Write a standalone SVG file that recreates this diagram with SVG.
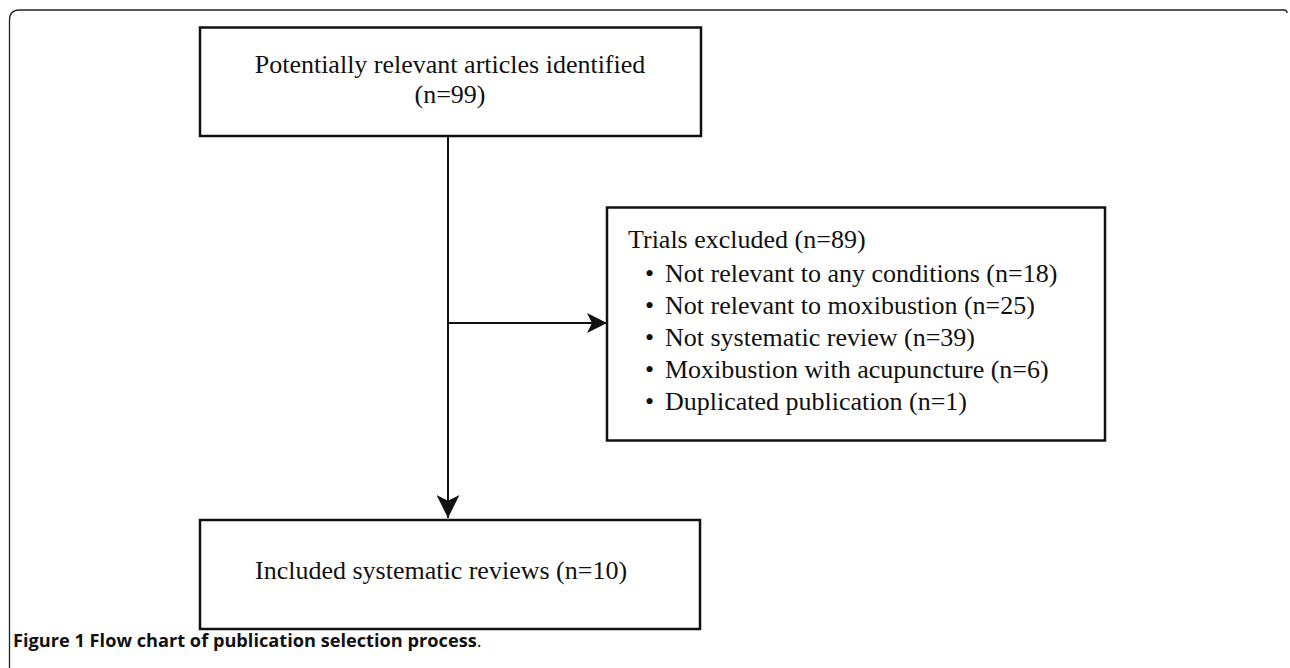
<svg xmlns="http://www.w3.org/2000/svg" width="1290" height="668" viewBox="0 0 1290 668">
<defs>
<style>
.box{fill:#fff;stroke:#111;stroke-width:2.5}
.t{font-family:"Liberation Serif","Times New Roman",serif;font-size:26px;fill:#111}
.ln{stroke:#111;stroke-width:2;fill:none}
.cap{font-family:"Open Sans","Noto Sans",sans-serif;font-size:18.2px;font-weight:bold;fill:#111}
</style>
<marker id="ah" viewBox="0 0 20 20" refX="20" refY="10" markerWidth="20" markerHeight="20" markerUnits="userSpaceOnUse" orient="auto">
<path d="M0,0 L20,10 L0,20 L5,10 Z" fill="#111"/>
</marker>
<marker id="ah2" viewBox="0 0 20 20" refX="20" refY="10" markerWidth="23" markerHeight="23" markerUnits="userSpaceOnUse" orient="auto">
<path d="M0,0 L20,10 L0,20 L5,10 Z" fill="#111"/>
</marker>
</defs>
<rect width="1290" height="668" fill="#fff"/>
<path d="M9.5,680 L9.5,20 Q9.5,10 19.5,10 L1284,10 Q1287,10 1287,13" fill="none" stroke="#222" stroke-width="1.3"/>
<g id="connectors">
<line class="ln" x1="448" y1="136" x2="448" y2="518" marker-end="url(#ah2)"/>
<line class="ln" x1="448" y1="323" x2="607" y2="323" marker-end="url(#ah)"/>
</g>
<g id="node-identified">
<rect class="box" x="200" y="27.5" width="501" height="108.5"/>
<text class="t" x="450" y="73" text-anchor="middle">Potentially relevant articles identified</text>
<text class="t" x="450" y="103" text-anchor="middle">(n=99)</text>
</g>
<g id="node-excluded">
<rect class="box" x="607" y="207.5" width="498" height="233"/>
<text class="t" x="628" y="248">Trials excluded (n=89)</text>
<text class="t" x="645" y="282">•</text><text class="t" x="665" y="282">Not relevant to any conditions (n=18)</text>
<text class="t" x="645" y="314">•</text><text class="t" x="665" y="314">Not relevant to moxibustion (n=25)</text>
<text class="t" x="645" y="346">•</text><text class="t" x="665" y="346">Not systematic review (n=39)</text>
<text class="t" x="645" y="378">•</text><text class="t" x="665" y="378">Moxibustion with acupuncture (n=6)</text>
<text class="t" x="645" y="410">•</text><text class="t" x="665" y="410">Duplicated publication (n=1)</text>
</g>
<g id="node-included">
<rect class="box" x="200" y="520" width="500" height="109"/>
<text class="t" x="255" y="579">Included systematic reviews (n=10)</text>
</g>
<text class="cap" x="13" y="647">Figure 1 Flow chart of publication selection process<tspan font-weight="normal">.</tspan></text>
</svg>
